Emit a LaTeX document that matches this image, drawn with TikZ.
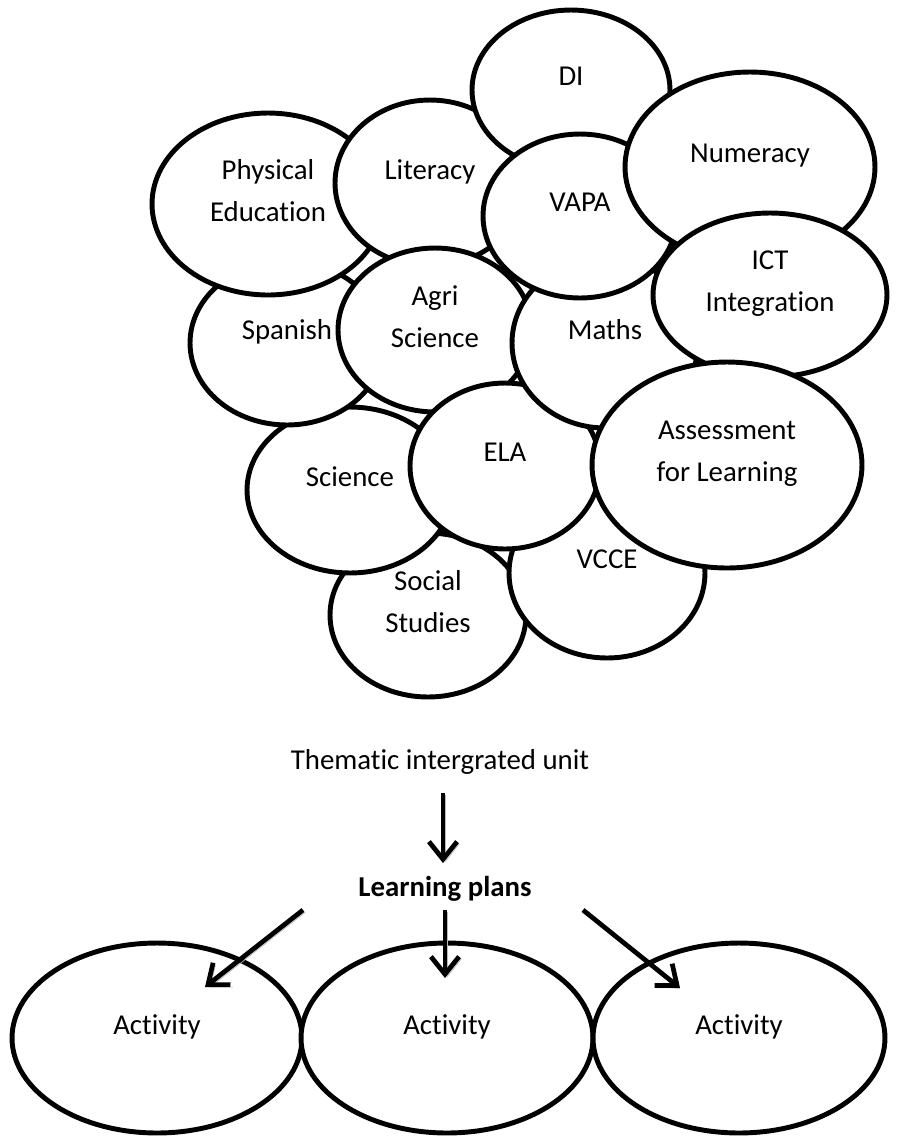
\documentclass[tikz,border=0pt]{standalone}
\usepackage{fontspec}
\setmainfont{Carlito}[Ligatures=CommonOff]
\usetikzlibrary{shapes.geometric,arrows.meta,calc}

\tikzstyle{bubble} = [ellipse, draw, fill=white, line width=2.8pt, inner sep=0pt, align=center, text depth=0.55cm, font=\fontsize{16.4}{24}\selectfont]
\tikzstyle{txt} = [inner sep=0pt, font=\fontsize{16.4}{24}\selectfont]
\tikzstyle{arrow} = [line width=2.7pt, -{Straight Barb[length=10pt,width=16pt]}, preaction={draw=gray!55, transform canvas={shift={(1.3pt,-1.3pt)}}}]

\begin{document}
\begin{tikzpicture}[x=0.02cm, y=-0.02cm]
    \useasboundingbox (0,0) rectangle (900,1137);

    % Subject bubbles
    \node(social) [bubble, minimum width=3.92cm, minimum height=3.28cm] at (428,615) {Social\\Studies};
    \node(vcce) [bubble, minimum width=3.92cm, minimum height=3.4cm] at (607,573) {VCCE};
    \node(science) [bubble, minimum width=4.12cm, minimum height=3.32cm] at (350,490) {Science};
    \node(spanish) [bubble, minimum width=3.88cm, minimum height=3.28cm] at (287,343) {Spanish};
    \node(physed) [bubble, minimum width=4.64cm, minimum height=3.64cm] at (268,204) {Physical\\Education};
    \node(literacy) [bubble, minimum width=3.8cm, minimum height=3.32cm] at (430,183) {Literacy};
    \node(di) [bubble, minimum width=3.96cm, minimum height=3.2cm] at (571,90) {DI};
    \node(agri) [bubble, minimum width=3.88cm, minimum height=3.28cm] at (435,330) {Agri\\Science};
    \node(ela) [bubble, minimum width=3.8cm, minimum height=3.32cm] at (505,466) {ELA};
    \node(maths) [bubble, minimum width=3.72cm, minimum height=3.4cm] at (605,343) {Maths};
    \node(vapa) [bubble, minimum width=3.88cm, minimum height=3.28cm] at (580,216) {VAPA};
    \node(numeracy) [bubble, minimum width=5cm, minimum height=3.8cm] at (750,167) {Numeracy};
    \node(ict) [bubble, minimum width=4.68cm, minimum height=3.28cm] at (770,295) {ICT\\Integration};
    \node(assess) [bubble, minimum width=5.4cm, minimum height=4.12cm] at (727,465) {Assessment\\for Learning};

    % Unit and plans
    \node(unit) [txt] at (440,762) {Thematic intergrated unit};
    \node(plans) [txt, font=\fontsize{16.4}{24}\selectfont\bfseries] at (445,889) {Learning plans};

    % Activities
    \node(act1) [bubble, minimum width=5.8cm, minimum height=3.8cm] at (157,1038) {Activity};
    \node(act2) [bubble, minimum width=5.84cm, minimum height=3.8cm] at (447,1038) {Activity};
    \node(act3) [bubble, minimum width=5.84cm, minimum height=3.8cm] at (739,1038) {Activity};

    % Arrows
    \draw [arrow] ($(unit)+(3,31)$) -- ($(plans)+(-2,-26)$);
    \draw [arrow] ($(plans)+(-142,21)$) -- ($(act1)+(48,-51)$);
    \draw [arrow] ($(plans)+(0,21)$) -- ($(act2)+(-2,-60)$);
    \draw [arrow] ($(plans)+(138,21)$) -- ($(act3)+(-59,-50)$);

\end{tikzpicture}
\end{document}
